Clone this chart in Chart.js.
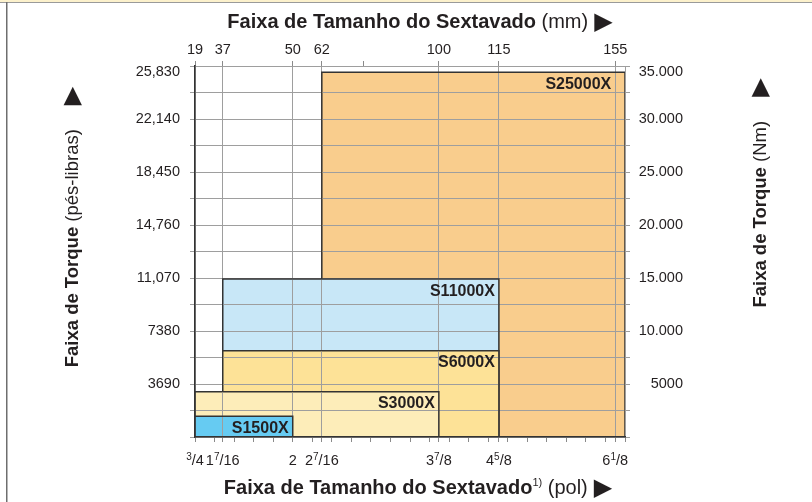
<!DOCTYPE html>
<html><head><meta charset="utf-8">
<script src="https://cdn.jsdelivr.net/npm/chart.js@4.4.1/dist/chart.umd.min.js"></script>
<style>html,body{margin:0;padding:0;background:#fff;overflow:hidden;}canvas{display:block;}</style>
</head><body>
<canvas id="c" width="812" height="502"></canvas>
<script>
// ================= DATA =================
const models        = ['S1500X', 'S3000X', 'S6000X', 'S11000X', 'S25000X'];
const sizeMinIn     = [0.75,   0.75,    1.4375,  1.4375,  2.4375];   // hex size range, inches
const sizeMaxIn     = [2,      3.875,   4.625,   4.625,   6.25];
const torqueMaxFtLb = [1450,   3150,    6000,    11000,   25400];    // max torque, ft-lb

const sizeInch        = [0.75, 1.4375, 2, 2.4375, 3.875, 4.625, 6.125];
const sizeInchLabels  = ['3/4', '1 7/16', '2', '2 7/16', '3 7/8', '4 5/8', '6 1/8'];
const sizeMmLabels    = ['19', '37', '50', '62', '100', '115', '155'];
const extraMmTicks    = [75];            // unlabelled mm tick

const ftLbTicks       = [3690, 7380, 11070, 14760, 18450, 22140, 25830];
const ftLbTickLabels  = ['3690', '7380', '11,070', '14,760', '18,450', '22,140', '25,830'];
const nmTicks         = [5000, 10000, 15000, 20000, 25000, 30000, 35000];
const nmTickLabels    = ['5000', '10.000', '15.000', '20.000', '25.000', '30.000', '35.000'];

// ================= AXIS LAYOUT (non-uniform size axis of the original drawing) =================
const AXIS_IN  = [0.75, 1.4375, 2.0, 2.4375, 3.875, 4.625, 6.125, 6.25];
const AXIS_POS = [0.75, 1.105,  2.0, 2.372,  3.869, 4.637, 6.125, 6.25];
function posOf(inch) {
  const n = AXIS_IN.length;
  let k = 0;
  while (k < n - 2 && inch > AXIS_IN[k + 1]) k++;
  const t = (inch - AXIS_IN[k]) / (AXIS_IN[k + 1] - AXIS_IN[k]);
  return AXIS_POS[k] + t * (AXIS_POS[k + 1] - AXIS_POS[k]);
}
const majorPos = sizeInch.map(posOf);
const bottomTickPos = (() => {
  const arr = majorPos.slice();
  for (let v = 0.75; v <= 6.2501; v += 0.25) {
    if (!majorPos.some(m => Math.abs(m - v) < 0.05)) arr.push(v);
  }
  return arr.sort((a, b) => a - b);
})();
const topTickPos = majorPos.concat(extraMmTicks.map(mm => posOf(mm / 25.4)));
const topTickLab = sizeMmLabels.concat(extraMmTicks.map(() => ''));
const isMajor = v => majorPos.some(m => Math.abs(m - v) < 1e-6);

// ================= STYLE =================
const FONT = '"Liberation Sans", Arial, Helvetica, sans-serif';
const TXT = '#231f20';
const GRID = '#9e9e9e';
const EDGE = '#333333';
const fills = ['#66cbf2', '#fdedb9', '#fde297', '#c8e7f7', '#f9cd8d'];
const TICK_FONT_CSS = '14.5px ' + FONT;

function drawParts(ctx, parts, cx, by) {
  let w = 0;
  parts.forEach(p => {
    if (p.gap) { p.w = p.gap; } else { ctx.font = p.font; p.w = ctx.measureText(p.text).width; }
    w += p.w;
  });
  let x = cx - w / 2;
  ctx.textAlign = 'left';
  ctx.textBaseline = 'alphabetic';
  ctx.fillStyle = TXT;
  parts.forEach(p => {
    if (!p.gap) { ctx.font = p.font; ctx.fillText(p.text, x, by + (p.dy || 0)); }
    x += p.w;
  });
}
function fracParts(lbl) {
  const parts = [];
  lbl.split(' ').forEach(tok => {
    if (tok.includes('/')) {
      const [n, d] = tok.split('/');
      parts.push({ text: n, font: '10px ' + FONT, dy: -5 });
      parts.push({ text: '/' + d, font: TICK_FONT_CSS });
    } else parts.push({ text: tok, font: TICK_FONT_CSS });
  });
  return parts;
}

const decor = {
  id: 'decor',
  beforeDraw(chart) {
    const ctx = chart.ctx;
    ctx.save();
    ctx.fillStyle = '#ffffff';
    ctx.fillRect(0, 0, chart.width, chart.height);
    ctx.fillStyle = '#fcf1cc';
    ctx.fillRect(0, 0, chart.width, 2);
    ctx.fillStyle = '#9a9a9a';
    ctx.fillRect(0, 2, chart.width, 1);
    ctx.fillStyle = '#6e6e6e';
    ctx.fillRect(6, 2, 1.5, chart.height);
    ctx.restore();
  },
  afterDatasetDraw(chart, args) {
    const i = args.index;
    const xs = chart.scales.x, ys = chart.scales.y, ctx = chart.ctx;
    const x0 = xs.getPixelForValue(posOf(sizeMinIn[i]));
    const x1 = xs.getPixelForValue(posOf(sizeMaxIn[i]));
    const yt = ys.getPixelForValue(torqueMaxFtLb[i]);
    const yb = ys.getPixelForValue(0);
    ctx.save();
    ctx.beginPath();
    ctx.rect(x0 + 0.9, yt + 0.9, x1 - x0 - 1.8, yb - yt - 1.4);
    ctx.clip();
    xs.drawGrid(chart.chartArea);
    ys.drawGrid(chart.chartArea);
    ctx.restore();
  },
  afterDraw(chart) {
    const ctx = chart.ctx;
    const xs = chart.scales.x, ys = chart.scales.y, y2 = chart.scales.y2;
    ctx.save();
    // top torque labels (set slightly below the top edge, as in the original)
    ctx.font = TICK_FONT_CSS;
    ctx.fillStyle = TXT;
    ctx.textBaseline = 'middle';
    ctx.textAlign = 'right';
    const topY = ys.getPixelForValue(ftLbTicks[ftLbTicks.length - 1]) + 6;
    ctx.fillText(ftLbTickLabels[ftLbTickLabels.length - 1], ys.right - 15, topY);
    ctx.fillText(nmTickLabels[nmTickLabels.length - 1], y2.right, topY);
    // model labels
    models.forEach((m, i) => {
      const xr = xs.getPixelForValue(posOf(Math.min(sizeMaxIn[i], sizeInch[sizeInch.length - 1])));
      const yt = ys.getPixelForValue(torqueMaxFtLb[i]);
      ctx.font = 'bold 16px ' + FONT;
      ctx.fillStyle = TXT;
      ctx.textAlign = 'right';
      ctx.textBaseline = 'alphabetic';
      ctx.fillText(m, xr - 4, yt + 16.5);
    });
    // bottom fractional tick labels
    sizeInch.forEach((v, i) => {
      drawParts(ctx, fracParts(sizeInchLabels[i]), xs.getPixelForValue(posOf(v)), 465);
    });
    // titles
    const B = 'bold 20px ' + FONT, R = '20px ' + FONT, TRI = '24px "DejaVu Sans"';
    drawParts(ctx, [
      { text: 'Faixa de Tamanho do Sextavado', font: B },
      { text: ' (mm)', font: R }, { gap: 6 },
      { text: '\u25B6', font: TRI, dy: 1 }
    ], 420, 28);
    drawParts(ctx, [
      { text: 'Faixa de Tamanho do Sextavado', font: B },
      { text: '1)', font: '11px ' + FONT, dy: -8 },
      { text: ' (pol)', font: R }, { gap: 6 },
      { text: '\u25B6', font: TRI, dy: 1 }
    ], 418, 494);
    const YB = 'bold 18.5px ' + FONT, YR = '18.5px ' + FONT;
    ctx.save();
    ctx.translate(78, 227);
    ctx.rotate(-Math.PI / 2);
    drawParts(ctx, [
      { text: 'Faixa de Torque', font: YB },
      { text: ' (pés-libras)', font: YR }, { gap: 24 },
      { text: '\u25B6', font: TRI, dy: 1 }
    ], 0, 0);
    ctx.restore();
    ctx.save();
    ctx.translate(766, 193);
    ctx.rotate(-Math.PI / 2);
    drawParts(ctx, [
      { text: 'Faixa de Torque', font: YB },
      { text: ' (Nm)', font: YR }, { gap: 24 },
      { text: '\u25B6', font: TRI, dy: 1 }
    ], 0, 0);
    ctx.restore();
    ctx.restore();
  }
};

const datasets = models.map((m, i) => ({
  label: m,
  data: [
    { x: posOf(sizeMinIn[i]), y: 0 },
    { x: posOf(sizeMinIn[i]), y: torqueMaxFtLb[i] },
    { x: posOf(sizeMaxIn[i]), y: torqueMaxFtLb[i] },
    { x: posOf(sizeMaxIn[i]), y: 0 }
  ],
  borderColor: EDGE,
  borderWidth: 1.5,
  backgroundColor: fills[i],
  fill: 'origin',
  pointRadius: 0,
  tension: 0,
  xAxisID: 'x',
  yAxisID: 'y'
}));

const tickFont = { family: FONT, size: 14.5 };

new Chart(document.getElementById('c'), {
  type: 'line',
  data: { datasets },
  plugins: [decor],
  options: {
    responsive: false,
    animation: false,
    devicePixelRatio: 1,
    events: [],
    layout: { padding: { left: 0, right: 129, top: 0, bottom: 0 } },
    plugins: { legend: { display: false }, tooltip: { enabled: false }, filler: { drawTime: 'beforeDatasetDraw' } },
    scales: {
      x: {
        type: 'linear', position: 'bottom', min: 0.75, max: 6.25,
        afterBuildTicks: s => { s.ticks = bottomTickPos.map(v => ({ value: v })); },
        ticks: { display: false },
        grid: {
          color: c => (c.tick && isMajor(c.tick.value)) ? GRID : 'rgba(0,0,0,0)',
          tickColor: '#8a8a8a', tickLength: 5, lineWidth: 1
        },
        border: { color: EDGE, width: 1.5, z: 1 },
        afterFit: s => { s.height = 65; }
      },
      x2: {
        type: 'linear', position: 'top', min: 0.75, max: 6.25,
        afterBuildTicks: s => { s.ticks = topTickPos.map(v => ({ value: v })); },
        ticks: {
          autoSkip: false, maxRotation: 0, minRotation: 0, padding: 2, color: TXT, font: tickFont,
          callback: v => { const i = topTickPos.findIndex(p => Math.abs(p - v) < 1e-6); return i >= 0 ? topTickLab[i] : ''; }
        },
        grid: { drawOnChartArea: false, color: GRID, tickColor: '#8a8a8a', tickLength: 5 },
        border: { color: GRID, width: 1 },
        afterFit: s => { s.height = 66; }
      },
      y: {
        type: 'linear', position: 'left', min: 0, max: 25830,
        ticks: {
          stepSize: 1845, autoSkip: false, padding: 10, color: TXT, font: tickFont,
          callback: v => { const i = ftLbTicks.indexOf(Math.round(v)); return (i >= 0 && i < ftLbTicks.length - 1) ? ftLbTickLabels[i] : ''; }
        },
        grid: { color: GRID, tickColor: GRID, tickLength: 5, lineWidth: 1 },
        border: { color: EDGE, width: 1.5, z: 1 },
        afterFit: s => { s.width = 195; }
      },
      y2: {
        type: 'linear', position: 'right', min: 0, max: 35000,
        ticks: {
          stepSize: 2500, autoSkip: false, padding: 7, crossAlign: 'far', color: TXT, font: tickFont,
          callback: v => { const i = nmTicks.indexOf(Math.round(v)); return (i >= 0 && i < nmTicks.length - 1) ? nmTickLabels[i] : ''; }
        },
        grid: { drawOnChartArea: false, color: GRID, tickColor: GRID, tickLength: 5 },
        border: { color: GRID, width: 1 },
        afterFit: s => { s.width = 58; }
      }
    }
  }
});
</script>
</body></html>
